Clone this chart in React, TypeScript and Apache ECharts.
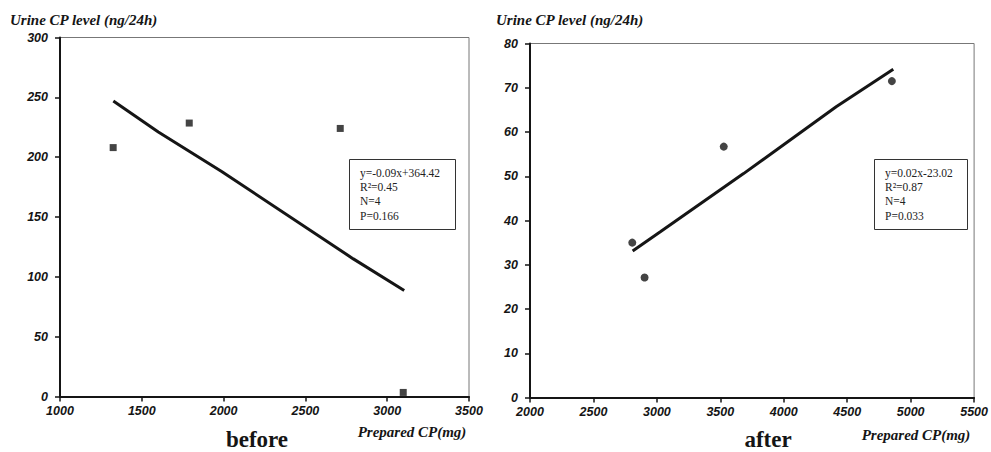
import React, { useEffect, useRef } from "react";
import * as echarts from "echarts";

// "before" panel
const beforeX = [1325, 1790, 2713, 3098];
const beforeY = [208, 228.5, 224, 3.4];
const beforeFitX = [1326, 1601, 1988, 2793, 3104];
const beforeFitY = [247, 221, 188, 115, 88.6];
const beforeStats = ["y=-0.09x+364.42", "R²=0.45", "N=4", "P=0.166"];

// "after" panel
const afterX = [2806, 2903, 3527, 4852];
const afterY = [35, 27.1, 56.7, 71.5];
const afterFitX = [2809, 3030, 3683, 4413, 4863];
const afterFitY = [33.1, 37.5, 50.6, 65.7, 74.2];
const afterStats = ["y=0.02x-23.02", "R²=0.87", "N=4", "P=0.033"];

const yTitle = "Urine CP level (ng/24h)";
const xTitle = "Prepared CP(mg)";
const panelNames = ["before", "after"];

const zip = (xs: number[], ys: number[]) => xs.map((x, i) => [x, ys[i]]);

const SANS = '"Liberation Sans", Arial, sans-serif';
const SERIF = '"Liberation Serif", "Times New Roman", serif';
const INK = "#151515";

function axisBase(gridIndex: number, min: number, max: number, interval: number, isY: boolean) {
  return {
    type: "value",
    gridIndex,
    min,
    max,
    interval,
    splitLine: { show: false },
    axisLine: { show: true, onZero: false, lineStyle: { color: INK, width: 2 } },
    axisTick: { show: true, inside: false, length: 5, lineStyle: { color: INK, width: 1.5 } },
    axisLabel: {
      formatter: (v: number) => String(v),
      fontFamily: SANS,
      fontStyle: "italic",
      fontWeight: 900,
      fontSize: 12.5,
      color: INK,
      margin: isY ? 12 : 8,
    },
  };
}

function statsBox(x: number, y: number, w: number, h: number, lines: string[]) {
  const children: any[] = [
    {
      type: "rect",
      shape: { x: x + 0.5, y: y + 0.5, width: w, height: h },
      style: { fill: "#fff", stroke: "#333", lineWidth: 1 },
    },
  ];
  lines.forEach((t, i) => {
    children.push({
      type: "text",
      x: x + 11,
      y: y + 14 + i * 14.2,
      style: {
        text: t,
        font: `11.5px ${SERIF}`,
        fill: "#222",
        textAlign: "left",
        textVerticalAlign: "middle",
      },
    });
  });
  return { type: "group", z: 100, children };
}

function label(text: string, x: number, y: number, font: string, align: string) {
  return {
    type: "text",
    x,
    y,
    z: 100,
    style: { text, font, fill: INK, textAlign: align, textVerticalAlign: "middle" },
  };
}

export default function App() {
  const ref = useRef<HTMLDivElement>(null);
  useEffect(() => {
    if (!ref.current) return;
    const chart = echarts.init(ref.current, undefined, { renderer: "svg" });
    const option: any = {
      animation: false,
      backgroundColor: "#fff",
      grid: [
        { left: 60, top: 37.5, width: 409, height: 359, show: true, borderColor: "#777", borderWidth: 1, containLabel: false },
        { left: 530, top: 43.5, width: 447, height: 354, show: true, borderColor: "#777", borderWidth: 1, containLabel: false },
      ],
      xAxis: [axisBase(0, 1000, 3500, 500, false), axisBase(1, 2000, 5500, 500, false)],
      yAxis: [axisBase(0, 0, 300, 50, true), axisBase(1, 0, 80, 10, true)],
      series: [
        {
          type: "line",
          xAxisIndex: 0,
          yAxisIndex: 0,
          data: zip(beforeFitX, beforeFitY),
          showSymbol: false,
          lineStyle: { color: INK, width: 3 },
        },
        {
          type: "scatter",
          xAxisIndex: 0,
          yAxisIndex: 0,
          data: zip(beforeX, beforeY),
          symbol: "rect",
          symbolSize: 7,
          itemStyle: { color: INK },
        },
        {
          type: "line",
          xAxisIndex: 1,
          yAxisIndex: 1,
          data: zip(afterFitX, afterFitY),
          showSymbol: false,
          lineStyle: { color: INK, width: 3 },
        },
        {
          type: "scatter",
          xAxisIndex: 1,
          yAxisIndex: 1,
          data: zip(afterX, afterY),
          symbol: "circle",
          symbolSize: 8,
          itemStyle: { color: INK },
        },
      ],
      graphic: [
        statsBox(349, 159, 106, 70, beforeStats),
        statsBox(874, 159, 93, 70, afterStats),
        label(yTitle, 10, 20, `italic bold 15px ${SERIF}`, "left"),
        label(yTitle, 496, 20, `italic bold 15px ${SERIF}`, "left"),
        label(xTitle, 412, 432, `italic bold 15px ${SERIF}`, "center"),
        label(xTitle, 916, 435, `italic bold 15px ${SERIF}`, "center"),
        label(panelNames[0], 257, 439, `bold 23px ${SERIF}`, "center"),
        label(panelNames[1], 768, 439, `bold 23px ${SERIF}`, "center"),
      ],
    };
    chart.setOption(option);
    return () => chart.dispose();
  }, []);
  return (
    <div
      ref={ref}
      style={{ position: "absolute", left: 0, top: 0, width: 991, height: 452 }}
    />
  );
}
